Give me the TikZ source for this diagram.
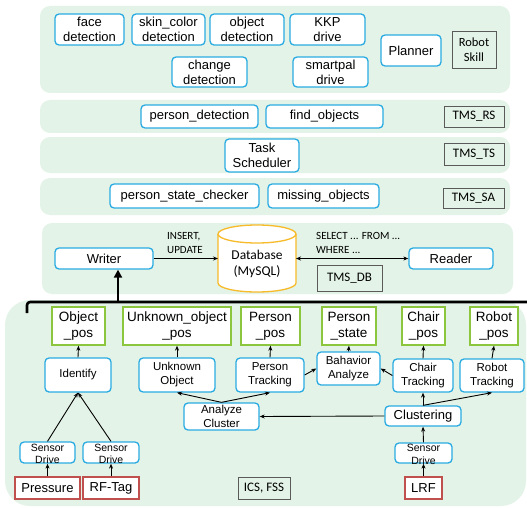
\documentclass[tikz,border=0pt]{standalone}
\usepackage{fontspec}
\setmainfont{Liberation Sans}
\newfontfamily\calfont{Carlito}
\usetikzlibrary{arrows.meta}
\definecolor{panelgreen}{RGB}{227,243,231}
\definecolor{boxblue}{RGB}{41,171,226}
\definecolor{boxgreen}{RGB}{140,198,63}
\definecolor{boxred}{RGB}{192,80,77}
\definecolor{dborange}{RGB}{247,186,40}
\definecolor{boxgray}{RGB}{90,90,90}
\tikzset{
  panel/.style={fill=panelgreen, draw=none, rounded corners=10pt},
  bluebox/.style={draw=boxblue, line width=1.3pt, rounded corners=4pt, fill=white, align=center, inner sep=0pt, font=\fontsize{13}{15}\selectfont},
  bluesmall/.style={bluebox, font=\fontsize{11.5}{14}\selectfont},
  sensorbox/.style={draw=boxblue, line width=1.3pt, rounded corners=4pt, fill=white, inner sep=0pt},
  sensortext/.style={align=center, inner sep=0pt, font=\fontsize{10.5}{12.5}\selectfont},
  greenbox/.style={draw=boxgreen, line width=1.3pt, fill=white, align=center, inner sep=0pt, font=\fontsize{13.5}{16}\selectfont},
  redbox/.style={draw=boxred, line width=1.3pt, fill=white, align=center, inner sep=0pt, font=\fontsize{13}{15}\selectfont},
  graybox/.style={draw=boxgray, line width=0.8pt, align=center, inner sep=0pt, font=\calfont\fontsize{13}{15}\selectfont},
  sqllabel/.style={align=left, inner sep=0pt, anchor=west, font=\calfont\fontsize{11}{13.5}\selectfont},
  arr/.style={line width=0.9pt, -{Stealth[length=5pt,width=4pt]}},
  thickline/.style={line width=2.6pt, line join=round}
}
\begin{document}
\begin{tikzpicture}[x=1pt,y=1pt]
\useasboundingbox (0,0) rectangle (527,-508);
% panels
\fill[panel] (40,-6) rectangle (510,-93);
\fill[panel] (40,-100) rectangle (510,-133);
\fill[panel] (40,-137) rectangle (510,-173);
\fill[panel] (40,-178) rectangle (510,-215);
\fill[panel] (42,-223) rectangle (513,-294);
\fill[panelgreen, rounded corners=25pt] (5,-300) rectangle (526,-506);

% Robot skill layer
\node[bluebox, minimum width=69, minimum height=31] (face) at (89.5,-29.5) {face\\detection};
\node[bluebox, minimum width=73, minimum height=31] (skin) at (168.5,-29.5) {skin\_color\\detection};
\node[bluebox, minimum width=74, minimum height=31] (objdet) at (247,-29.5) {object\\detection};
\node[bluebox, minimum width=75, minimum height=31] (kkp) at (327.5,-29.5) {KKP\\drive};
\node[bluebox, minimum width=75, minimum height=30] (change) at (209.5,-72) {change\\detection};
\node[bluebox, minimum width=75, minimum height=30] (smartpal) at (330.5,-72) {smartpal\\drive};
\node[bluebox, minimum width=60, minimum height=31] (planner) at (411,-50.5) {Planner};
\node[graybox, minimum width=44, minimum height=37, font=\calfont\fontsize{12.5}{15}\selectfont] (robotskill) at (474,-49.5) {Robot\\Skill};

% TMS_RS
\node[bluebox, minimum width=117, minimum height=23] (persondet) at (199.5,-116.5) {person\_detection};
\node[bluebox, minimum width=117, minimum height=23] (findobj) at (324.5,-116.5) {find\_objects};
\node[graybox, minimum width=60, minimum height=21] (tmsrs) at (474,-116.5) {TMS\_RS};

% TMS_TS
\node[bluebox, minimum width=74, minimum height=33] (task) at (262,-155.5) {Task\\Scheduler};
\node[graybox, minimum width=60, minimum height=22] (tmsts) at (474,-154) {TMS\_TS};

% TMS_SA
\node[bluebox, minimum width=149, minimum height=24] (psc) at (184.5,-196) {person\_state\_checker};
\node[bluebox, minimum width=111, minimum height=24] (missing) at (323.5,-196) {missing\_objects};
\node[graybox, minimum width=61, minimum height=20] (tmssa) at (473.5,-198) {TMS\_SA};

% TMS_DB
\node[bluebox, minimum width=98, minimum height=21] (writer) at (104,-258.5) {Writer};
\node[bluebox, minimum width=84, minimum height=21] (reader) at (451,-258.5) {Reader};
\draw[dborange, line width=1.3pt, fill=white]
  (218,-234) -- (218,-283) arc[start angle=180, end angle=360, x radius=39pt, y radius=9pt]
  -- (296,-234) arc[start angle=0, end angle=180, x radius=39pt, y radius=9pt] -- cycle;
\draw[dborange, line width=1.3pt]
  (218,-234) arc[start angle=180, end angle=360, x radius=39pt, y radius=9pt];
\node[align=center, inner sep=0pt, minimum width=78, minimum height=67, font=\calfont\fontsize{13.5}{16}\selectfont] (db) at (257,-264) {Database\\(MySQL)};
\node[graybox, minimum width=65, minimum height=26] (tmsdb) at (349.5,-278) {TMS\_DB};
\node[sqllabel] (ins) at (167,-243) {INSERT,\\UPDATE};
\node[sqllabel] (sel) at (316,-243) {SELECT ... FROM ...\\WHERE ...};
\draw[arr] (writer.east) -- (218,-258.5) coordinate (dbl);
\draw[line width=0.9pt, {Stealth[length=5pt,width=4pt]}-{Stealth[length=5pt,width=4pt]}] (296,-258.5) coordinate (dbr) -- (reader.west);

% bus
\coordinate (busl) at (27,-313);
\coordinate (busc) at (27,-302);
\coordinate (busr) at (527,-302);
\coordinate (busw) at (118,-302);
\draw[thickline, rounded corners=3pt] (busl) -- (busc) -- (busr);
\draw[thickline, -{Triangle[length=8pt,width=8pt]}] (busw) -- (busw |- writer.south);

% ICS, FSS layer: pos boxes
\node[greenbox, minimum width=53, minimum height=38] (objpos) at (78.5,-326) {Object\\\_pos};
\node[greenbox, minimum width=108, minimum height=38] (unkpos) at (177,-326) {Unknown\_object\\\_pos};
\node[greenbox, minimum width=59, minimum height=38] (perpos) at (270.5,-326) {Person\\\_pos};
\node[greenbox, minimum width=54, minimum height=38] (perstate) at (349,-326) {Person\\\_state};
\node[greenbox, minimum width=43, minimum height=38] (chairpos) at (423.5,-326) {Chair\\\_pos};
\node[greenbox, minimum width=48, minimum height=38] (robotpos) at (494,-326) {Robot\\\_pos};

% processing boxes
\node[bluesmall, minimum width=66, minimum height=34] (identify) at (78,-375) {Identify};
\node[bluesmall, minimum width=76, minimum height=34] (unkobj) at (177,-375) {Unknown\\Object};
\node[bluesmall, minimum width=68, minimum height=34] (pertrack) at (270,-375) {Person\\Tracking};
\node[bluesmall, minimum width=63, minimum height=33] (behav) at (348.5,-368.5) {Bahavior\\Analyze};
\node[bluesmall, minimum width=60, minimum height=33] (chairtrack) at (423,-375.5) {Chair\\Tracking};
\node[bluesmall, minimum width=64, minimum height=33] (robottrack) at (492,-375.5) {Robot\\Tracking};
\node[bluesmall, minimum width=75, minimum height=27] (analyze) at (221.5,-416.5) {Analyze\\Cluster};
\node[bluebox, minimum width=76, minimum height=20] (clustering) at (423,-416) {Clustering};

% sensor drives
\node[sensorbox, minimum width=55, minimum height=21] (sd1) at (47.5,-452.5) {};
\node[sensortext] (sd1t) at (47.5,-454) {Sensor\\Drive};
\node[sensorbox, minimum width=56, minimum height=21] (sd2) at (111,-452.5) {};
\node[sensortext] (sd2t) at (111,-454) {Sensor\\Drive};
\node[sensorbox, minimum width=57, minimum height=20] (sd3) at (423.5,-453) {};
\node[sensortext] (sd3t) at (423.5,-454.5) {Sensor\\Drive};

% sensors
\node[redbox, minimum width=65, minimum height=22] (pressure) at (47.5,-488) {Pressure};
\node[redbox, minimum width=56, minimum height=22] (rftag) at (111,-488) {RF-Tag};
\node[redbox, minimum width=37, minimum height=22] (lrf) at (423.5,-488) {LRF};
\node[graybox, minimum width=52, minimum height=22] (icsfss) at (264,-488) {ICS, FSS};

% arrows
\draw[arr] (identify.north) -- (objpos.south);
\draw[arr] (unkobj.north) -- (unkpos.south);
\draw[arr] (pertrack.north) -- (perpos.south);
\draw[arr] (behav.north) -- (perstate.south);
\draw[arr] (chairtrack.north) -- (chairpos.south);
\draw[arr] (robottrack.north) -- (robotpos.south);
\draw[arr] (pertrack.east) -- (behav.west);
\draw[arr] (chairtrack.west) -- (behav.east);
\draw[arr] (analyze.north) -- (unkobj.south);
\draw[arr] (analyze.north) -- (pertrack.south);
\draw[arr] (clustering.north) -- (chairtrack.south);
\draw[arr] (clustering.north) -- (robottrack.south);
\draw[arr] (clustering.west) -- (analyze.east);
\draw[arr] (sd3.north) -- (clustering.south);
\draw[arr] (lrf.north) -- (sd3.south);
\draw[arr] (pressure.north) -- (sd1.south);
\draw[arr] (rftag.north) -- (sd2.south);
\draw[arr] (sd1.north) -- (identify.south);
\draw[arr] (sd2.north) -- (identify.south);
\end{tikzpicture}
\end{document}
